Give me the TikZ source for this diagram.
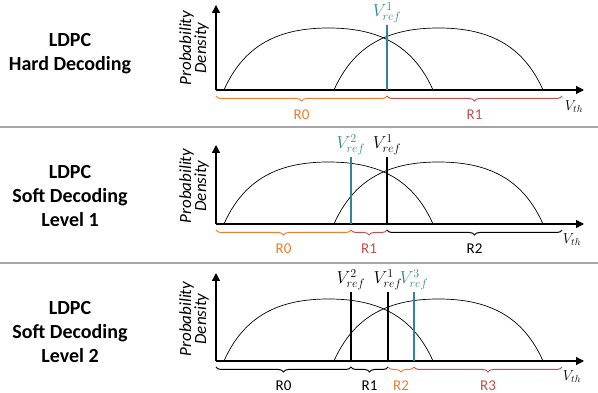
\documentclass[tikz,border=0pt]{standalone}
\usepackage{fontspec}
\setmainfont{Carlito}
\usepackage{tikz}
\usetikzlibrary{arrows.meta,decorations.pathreplacing}

\definecolor{refteal}{RGB}{49,133,155}
\definecolor{regorange}{RGB}{237,125,49}
\definecolor{regred}{RGB}{192,80,77}
\definecolor{sepgray}{RGB}{166,166,166}

\tikzset{
  axisline/.style={line width=1.3pt,-{Triangle[length=8pt,width=8pt]}},
  dens/.style={line width=0.7pt},
  vref/.style={line width=2.4pt},
  vlbl/.style={above,inner sep=0.5pt,font=\fontsize{18}{20}\selectfont},
  region/.style={decorate,decoration={brace,mirror,amplitude=5pt},line width=1pt},
  rlbl/.style={midway,below=13pt,inner sep=0pt,font=\fontsize{15}{18}\selectfont},
  ylbl/.style={rotate=90,align=center,font=\fontsize{17}{15}\selectfont\itshape},
  vth/.style={font=\fontsize{14}{16}\selectfont},
  title/.style={align=center,font=\fontsize{20}{24}\selectfont\bfseries},
  sep/.style={sepgray,line width=2.5pt},
}

\begin{document}
\begin{tikzpicture}[x=1pt,y=1pt]
  \useasboundingbox (0,0) rectangle (598,393);
  \draw[sep] (0,266)--(598,266);
  \draw[sep] (0,130)--(598,130);

  % hard decoding
  \node[title] (hard) at (70,339) {LDPC\\Hard Decoding};
  \begin{scope}[yshift=303pt]
    \draw[axisline] (216,0)--(216,85);
    \draw[axisline] (216,0)--(584,0);
    \foreach \s in {224,334}{\draw[dens] (\s,0) .. controls ({\s+20},45) and ({\s+54.5},62) .. ({\s+104.5},62) .. controls ({\s+154.5},62) and ({\s+189},45) .. ({\s+209},0);}
    \node[ylbl] (pd1) at (194,42) {Probability\\Density};
    \draw[vref,refteal] (387,0)--(387,65) node[vlbl] (ref1a) {$V_{ref}^{1}$};
    \draw[region,regorange] (216,-6)--(387,-6) node[rlbl] (r0a) {R0};
    \draw[region,regred] (387,-6)--(562,-6) node[rlbl] (r1a) {R1};
    \node[vth] (vtha) at (574,-17) {$V_{th}$};
  \end{scope}

  % soft decoding, level 1
  \node[title] (soft1) at (70,197) {LDPC\\Soft Decoding\\Level 1};
  \begin{scope}[yshift=169pt]
    \draw[axisline] (216,0)--(216,79);
    \draw[axisline] (216,0)--(584,0);
    \foreach \s in {224,334}{\draw[dens] (\s,0) .. controls ({\s+20},45) and ({\s+54.5},62) .. ({\s+104.5},62) .. controls ({\s+154.5},62) and ({\s+189},45) .. ({\s+209},0);}
    \node[ylbl] (pd2) at (194,38) {Probability\\Density};
    \draw[vref,refteal] (351,0)--(351,67) node[vlbl] (ref2b) {$V_{ref}^{2}$};
    \draw[vref] (387,0)--(387,67) node[vlbl] (ref1b) {$V_{ref}^{1}$};
    \draw[region,regorange] (216,-6)--(351,-6) node[rlbl] (r0b) {R0};
    \draw[region,regred] (351,-6)--(387,-6) node[rlbl] (r1b) {R1};
    \draw[region] (387,-6)--(562,-6) node[rlbl] (r2b) {R2};
    \node[vth] (vthb) at (572,-16) {$V_{th}$};
  \end{scope}

  % soft decoding, level 2
  \node[title] (soft2) at (70,61) {LDPC\\Soft Decoding\\Level 2};
  \begin{scope}[yshift=32pt]
    \draw[axisline] (216,0)--(216,88);
    \draw[axisline] (216,0)--(584,0);
    \foreach \s in {224,334}{\draw[dens] (\s,0) .. controls ({\s+20},45) and ({\s+54.5},62) .. ({\s+104.5},62) .. controls ({\s+154.5},62) and ({\s+189},45) .. ({\s+209},0);}
    \node[ylbl] (pd3) at (194,42) {Probability\\Density};
    \draw[vref] (351,0)--(351,69) node[vlbl] (ref2c) {$V_{ref}^{2}$};
    \draw[vref] (388,0)--(388,69) node[vlbl] (ref1c) {$V_{ref}^{1}$};
    \draw[vref,refteal] (414,0)--(414,69) node[vlbl] (ref3c) {$V_{ref}^{3}$};
    \draw[region] (216,-6)--(351,-6) node[rlbl] (r0c) {R0};
    \draw[region] (351,-6)--(388,-6) node[rlbl] (r1c) {R1};
    \draw[region,regorange] (388,-6)--(414,-6) node[rlbl] (r2c) {R2};
    \draw[region,regred] (414,-6)--(562,-6) node[rlbl] (r3c) {R3};
    \node[vth] (vthc) at (572,-16) {$V_{th}$};
  \end{scope}
\end{tikzpicture}
\end{document}
